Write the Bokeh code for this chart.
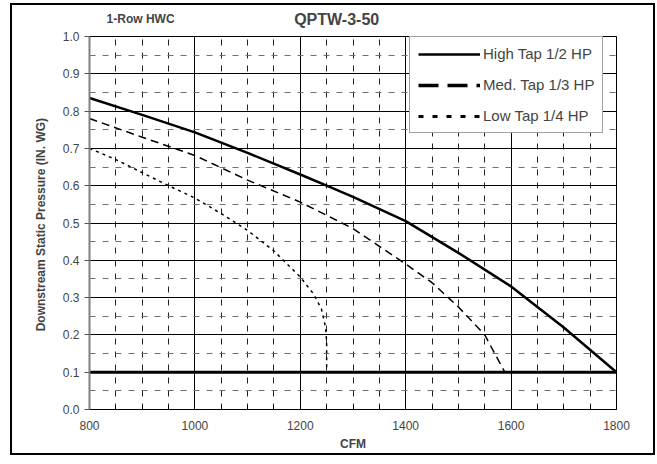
from bokeh.plotting import figure
from bokeh.models import (Range1d, FixedTicker, PrintfTickFormatter, Legend, LegendItem, Label)
from bokeh.embed import file_html
from bokeh.resources import INLINE

# ---- data ----
high_cfm = [800, 900, 1000, 1100, 1200, 1250, 1300, 1400, 1500, 1600, 1700, 1800]
high_sp = [0.835, 0.79, 0.743, 0.688, 0.63, 0.60, 0.57, 0.505, 0.42, 0.33, 0.22, 0.10]

med_cfm = [800, 900, 1000, 1100, 1200, 1300, 1400, 1450, 1500, 1550, 1588]
med_sp = [0.78, 0.73, 0.681, 0.615, 0.556, 0.485, 0.39, 0.34, 0.275, 0.20, 0.10]

low_cfm = [800, 850, 900, 950, 1000, 1050, 1100, 1150, 1200, 1225, 1240, 1248, 1250, 1250]
low_sp = [0.70, 0.67, 0.635, 0.60, 0.567, 0.525, 0.48, 0.425, 0.355, 0.31, 0.27, 0.22, 0.18, 0.10]

base_cfm = [800, 1800]
base_sp = [0.10, 0.10]

x_ticks = [800, 1000, 1200, 1400, 1600, 1800]
x_minor = [850, 900, 950, 1050, 1100, 1150, 1250, 1300, 1350,
           1450, 1500, 1550, 1650, 1700, 1750]
y_ticks = [0.0, 0.1, 0.2, 0.3, 0.4, 0.5, 0.6, 0.7, 0.8, 0.9, 1.0]
y_minor = [0.05, 0.15, 0.25, 0.35, 0.45, 0.55, 0.65, 0.75, 0.85, 0.95]

legend_labels = ["High Tap 1/2 HP", "Med. Tap 1/3 HP", "Low Tap 1/4 HP"]
title_main = "QPTW-3-50"
title_sub = "1-Row HWC"
x_label = "CFM"
y_label = "Downstream Static  Pressure (IN. WG)"

FONT = "Liberation Sans"

p = figure(width=641, height=448, output_backend="svg", toolbar_location=None,
           x_range=Range1d(800, 1800), y_range=Range1d(0, 1.0),
           min_border_left=77, min_border_right=37, min_border_top=31, min_border_bottom=44)
p.margin = (5, 0, 0, 12)
p.styles = {"box-shadow": "0 0 0 2px black"}
p.background_fill_color = "white"
p.border_fill_color = "white"
p.outline_line_color = "black"
p.outline_line_width = 1

# grids
p.xgrid.ticker = FixedTicker(ticks=x_ticks, minor_ticks=x_minor)
p.ygrid.ticker = FixedTicker(ticks=y_ticks, minor_ticks=y_minor)
for g in (p.xgrid, p.ygrid):
    g.grid_line_color = "black"
    g.grid_line_width = 1
    g.grid_line_alpha = 1
    g.minor_grid_line_width = 1
    g.minor_grid_line_dash = "6 7"
p.xgrid.minor_grid_line_color = "#222222"
p.ygrid.minor_grid_line_color = "#707070"

# axes
xa = p.xaxis[0]
xa.ticker = FixedTicker(ticks=x_ticks, minor_ticks=x_minor)
xa.major_tick_out = 0
xa.major_tick_in = 0
xa.minor_tick_in = 4
xa.minor_tick_out = 0
xa.axis_line_color = "black"
xa.major_label_text_font = FONT
xa.major_label_text_font_size = "12px"
xa.major_label_standoff = 11
xa.axis_label = x_label
xa.axis_label_text_font = FONT
xa.axis_label_text_font_size = "12px"
xa.axis_label_text_font_style = "bold"
xa.axis_label_standoff = 4

ya = p.yaxis[0]
ya.ticker = FixedTicker(ticks=y_ticks)
ya.formatter = PrintfTickFormatter(format="%.1f")
ya.major_tick_out = 5
ya.major_tick_in = 0
ya.minor_tick_in = 0
ya.minor_tick_out = 0
ya.axis_line_color = "#808080"
ya.axis_line_width = 2
ya.major_tick_line_color = "#555555"
ya.major_label_text_font = FONT
ya.major_label_text_font_size = "12px"
ya.major_label_standoff = 5
ya.axis_label = y_label
ya.axis_label_text_font = FONT
ya.axis_label_text_font_size = "12px"
ya.axis_label_text_font_style = "bold"
ya.axis_label_standoff = 12

# data lines
p.line(base_cfm, base_sp, line_color="black", line_width=3)
p.line(high_cfm, high_sp, line_color="black", line_width=2.5)
p.line(med_cfm, med_sp, line_color="black", line_width=1.5, line_dash="8 5")
p.line(low_cfm, low_sp, line_color="black", line_width=1.5, line_dash="3 4")

# legend proxies (outside the visible range, used only for legend glyphs)
off_x = [700, 710]
off_y = [-0.5, -0.5]
lg_h = p.line(off_x, off_y, line_color="black", line_width=2.5)
lg_m = p.line(off_x, off_y, line_color="black", line_width=3.5, line_dash="20 9")
lg_l = p.line(off_x, off_y, line_color="black", line_width=3, line_dash="5 9")
legend = Legend(items=[LegendItem(label=legend_labels[0], renderers=[lg_h]),
                       LegendItem(label=legend_labels[1], renderers=[lg_m]),
                       LegendItem(label=legend_labels[2], renderers=[lg_l])],
                location=(320, 276))
legend.border_line_color = "#444444"
legend.border_line_width = 1
legend.background_fill_color = "white"
legend.background_fill_alpha = 1
legend.label_text_font = FONT
legend.label_text_font_size = "15px"
legend.glyph_width = 62
legend.glyph_height = 16
legend.label_height = 16
legend.spacing = 14
legend.padding = 8
legend.margin = 0
legend.label_standoff = 3
p.add_layout(legend, "center")

# titles (in the side panel so they are not clipped to the frame)
p.add_layout(Label(x=1269, y=1.046, text=title_main, text_font=FONT, text_font_size="16px",
                   text_font_style="bold", text_align="center", text_baseline="middle"), "above")
p.add_layout(Label(x=897, y=1.046, text=title_sub, text_font=FONT, text_font_size="12px",
                   text_font_style="bold", text_align="center", text_baseline="middle"), "above")

open("out.html", "w").write(file_html(p, INLINE))
